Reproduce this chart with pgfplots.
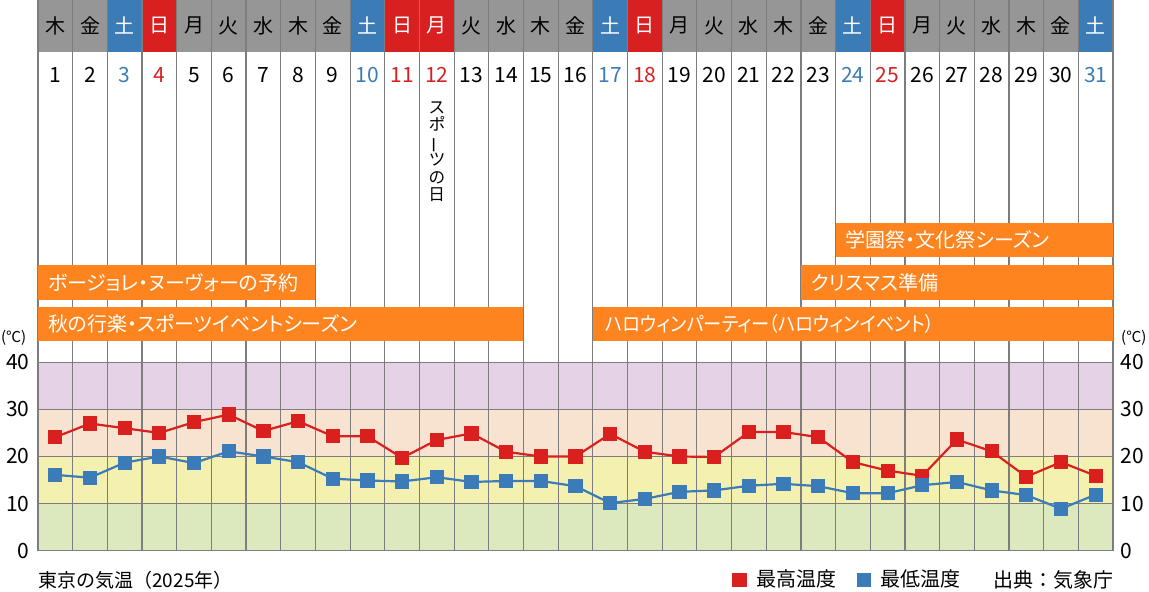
\documentclass[border=0pt]{standalone}
\usepackage{fontspec}
\setmainfont{Noto Sans CJK JP}[RawFeature={+palt}]
\newfontfamily\fwfont{Noto Sans CJK JP}
\usepackage{pgfplots}
\usepackage{pgfplotstable}
\pgfplotsset{compat=1.18}

\definecolor{hdgray}{RGB}{150,150,150}
\definecolor{satblue}{RGB}{59,124,183}
\definecolor{sunred}{RGB}{216,32,32}
\definecolor{evorange}{RGB}{253,132,31}
\definecolor{gridgray}{RGB}{125,125,125}
\definecolor{bandA}{RGB}{220,232,189}
\definecolor{bandB}{RGB}{244,241,176}
\definecolor{bandC}{RGB}{248,227,208}
\definecolor{bandD}{RGB}{230,210,230}
\definecolor{maxred}{RGB}{217,32,31}
\definecolor{minblue}{RGB}{59,123,184}

\newcommand\wkfont{\fontsize{10}{11}\selectfont}
\newcommand\dtfont{\fontsize{10.5}{12}\selectfont}
\newcommand\evfont{\fontsize{10}{12}\selectfont}

% 東京 10月の最高・最低気温
\pgfplotstableread{
day max min
1 24.1 16.1
2 27.0 15.5
3 26.0 18.7
4 25.0 20.0
5 27.3 18.6
6 28.9 21.1
7 25.4 20.0
8 27.5 18.8
9 24.3 15.3
10 24.3 14.9
11 19.7 14.7
12 23.5 15.6
13 24.9 14.6
14 21.0 14.8
15 20.0 14.8
16 20.0 13.7
17 24.8 10.1
18 21.0 11.0
19 20.0 12.5
20 19.9 12.8
21 25.2 13.8
22 25.2 14.2
23 24.1 13.7
24 18.8 12.2
25 17.0 12.2
26 15.9 13.9
27 23.6 14.6
28 21.1 12.8
29 15.7 11.8
30 18.8 8.9
31 15.9 11.9
}\temps

\begin{document}
\begin{tikzpicture}
\useasboundingbox (-19pt,-20.15pt) rectangle (555.5pt,275.35pt);

\pgfplotsset{
  calaxis/.style={
    scale only axis, width=537.5pt, height=275.35pt,
    xmin=0.5, xmax=31.5, ymin=0, ymax=116.9,
    xtick=\empty, ytick={0,10,20,30,40},
    axis line style={draw=none}, major tick length=0pt,
    clip=false,
    /pgf/number format/assume math mode=true,
    yticklabel style={font=\fontsize{10.5}{12}\selectfont, inner sep=0pt},
  }
}

% right-hand tick labels
\begin{axis}[calaxis, yticklabel pos=right, yticklabel style={anchor=west, xshift=3.5pt}]
\end{axis}

\begin{axis}[calaxis, yticklabel style={anchor=east, xshift=-4pt},
  legend style={at={(axis description cs:0.64,-0.053)}, anchor=west, draw=none, fill=none,
    font=\fwfont\fontsize{10}{12}\selectfont, legend columns=2,
    /tikz/every even column/.append style={column sep=8pt}},
  legend cell align=left]

% temperature bands
\fill[bandA] (axis cs:0.5,0) rectangle (axis cs:31.5,10);
\fill[bandB] (axis cs:0.5,10) rectangle (axis cs:31.5,20);
\fill[bandC] (axis cs:0.5,20) rectangle (axis cs:31.5,30);
\fill[bandD] (axis cs:0.5,30) rectangle (axis cs:31.5,40);

% calendar header
\foreach \dd/\w/\f/\tc/\nc in {
  1/木/hdgray/black/black, 2/金/hdgray/black/black, 3/土/satblue/white/satblue,
  4/日/sunred/white/sunred, 5/月/hdgray/black/black, 6/火/hdgray/black/black,
  7/水/hdgray/black/black, 8/木/hdgray/black/black, 9/金/hdgray/black/black,
  10/土/satblue/white/satblue, 11/日/sunred/white/sunred, 12/月/sunred/white/sunred,
  13/火/hdgray/black/black, 14/水/hdgray/black/black, 15/木/hdgray/black/black,
  16/金/hdgray/black/black, 17/土/satblue/white/satblue, 18/日/sunred/white/sunred,
  19/月/hdgray/black/black, 20/火/hdgray/black/black, 21/水/hdgray/black/black,
  22/木/hdgray/black/black, 23/金/hdgray/black/black, 24/土/satblue/white/satblue,
  25/日/sunred/white/sunred, 26/月/hdgray/black/black, 27/火/hdgray/black/black,
  28/水/hdgray/black/black, 29/木/hdgray/black/black, 30/金/hdgray/black/black,
  31/土/satblue/white/satblue}{
  \edef\temp{\noexpand\fill[\f] (axis cs:\dd-0.5,105.9) rectangle (axis cs:\dd+0.5,116.9);
    \noexpand\node[text=\tc, font=\noexpand\wkfont] at (axis cs:\dd,111.4) {\w};
    \noexpand\node[text=\nc, font=\noexpand\dtfont] at (axis cs:\dd,101) {\dd};}
  \temp
}

% grid
\pgfplotsinvokeforeach{0,...,31}{
  \draw[gridgray, line width=0.6pt] (axis cs:#1+0.5,0) -- (axis cs:#1+0.5,116.9);
}
\pgfplotsinvokeforeach{0,10,20,30,40}{
  \draw[gridgray, line width=0.6pt] (axis cs:0.5,#1) -- (axis cs:31.5,#1);
}

% holiday
\node[anchor=north, align=center, font=\fontsize{8.3}{8.7}\selectfont] at (axis cs:12,96.8)
  {ス\\ポ\\\rotatebox[origin=c]{90}{ー}\\ツ\\の\\日};

% event bars
\addplot[fill=evorange, draw=none, forget plot] coordinates {(23.5,62.36) (31.5,62.36) (31.5,69.58) (23.5,69.58)} -- cycle;
\addplot[fill=evorange, draw=none, forget plot] coordinates {(0.5,53.23) (8.5,53.23) (8.5,60.66) (0.5,60.66)} -- cycle;
\addplot[fill=evorange, draw=none, forget plot] coordinates {(22.5,53.23) (31.5,53.23) (31.5,60.66) (22.5,60.66)} -- cycle;
\addplot[fill=evorange, draw=none, forget plot] coordinates {(0.5,44.52) (14.5,44.52) (14.5,51.74) (0.5,51.74)} -- cycle;
\addplot[fill=evorange, draw=none, forget plot] coordinates {(16.5,44.52) (31.5,44.52) (31.5,51.74) (16.5,51.74)} -- cycle;

\node[anchor=west, text=white, font=\evfont, xshift=1.5pt] at (axis cs:23.5,65.97) {学園祭・文化祭シーズン};
\node[anchor=west, text=white, font=\evfont, xshift=1.5pt] at (axis cs:0.5,56.95) {ボージョレ・ヌーヴォーの予約};
\node[anchor=west, text=white, font=\evfont, xshift=1.5pt] at (axis cs:22.5,56.95) {クリスマス準備};
\node[anchor=west, text=white, font=\evfont, xshift=1.5pt] at (axis cs:0.5,48.13) {秋の行楽・スポーツイベントシーズン};
\node[anchor=west, text=white, font=\evfont, xshift=2.5pt] at (axis cs:16.5,48.13) {\scalebox{0.91}[1]{ハロウィンパーティー（ハロウィンイベント）}};

% units and captions
\node[font=\fontsize{7.5}{9}\selectfont] at (axis cs:-0.2,45.2) {(℃)};
\node[font=\fontsize{7.5}{9}\selectfont] at (axis cs:32.1,45.2) {(℃)};
\node[anchor=west, inner sep=0pt, font=\fwfont\fontsize{9.5}{11}\selectfont] at (axis cs:0.5,-6.2) {東京の気温（2025年）};
\node[anchor=west, inner sep=0pt, font=\fwfont\fontsize{10}{12}\selectfont] at (axis cs:28.05,-6.2) {出典：気象庁};

% data
\addplot[maxred, line width=1.1pt, mark=square*, mark size=3pt,
  legend image code/.code={\fill[maxred] (0pt,-3pt) rectangle (6pt,3pt); \path (9pt,0pt);}]
  table[x=day, y=max] {\temps};
\addlegendentry{最高温度}
\addplot[minblue, line width=1.1pt, mark=square*, mark size=3pt,
  legend image code/.code={\fill[minblue] (0pt,-3pt) rectangle (6pt,3pt); \path (9pt,0pt);}]
  table[x=day, y=min] {\temps};
\addlegendentry{最低温度}
\end{axis}
\end{tikzpicture}
\end{document}
